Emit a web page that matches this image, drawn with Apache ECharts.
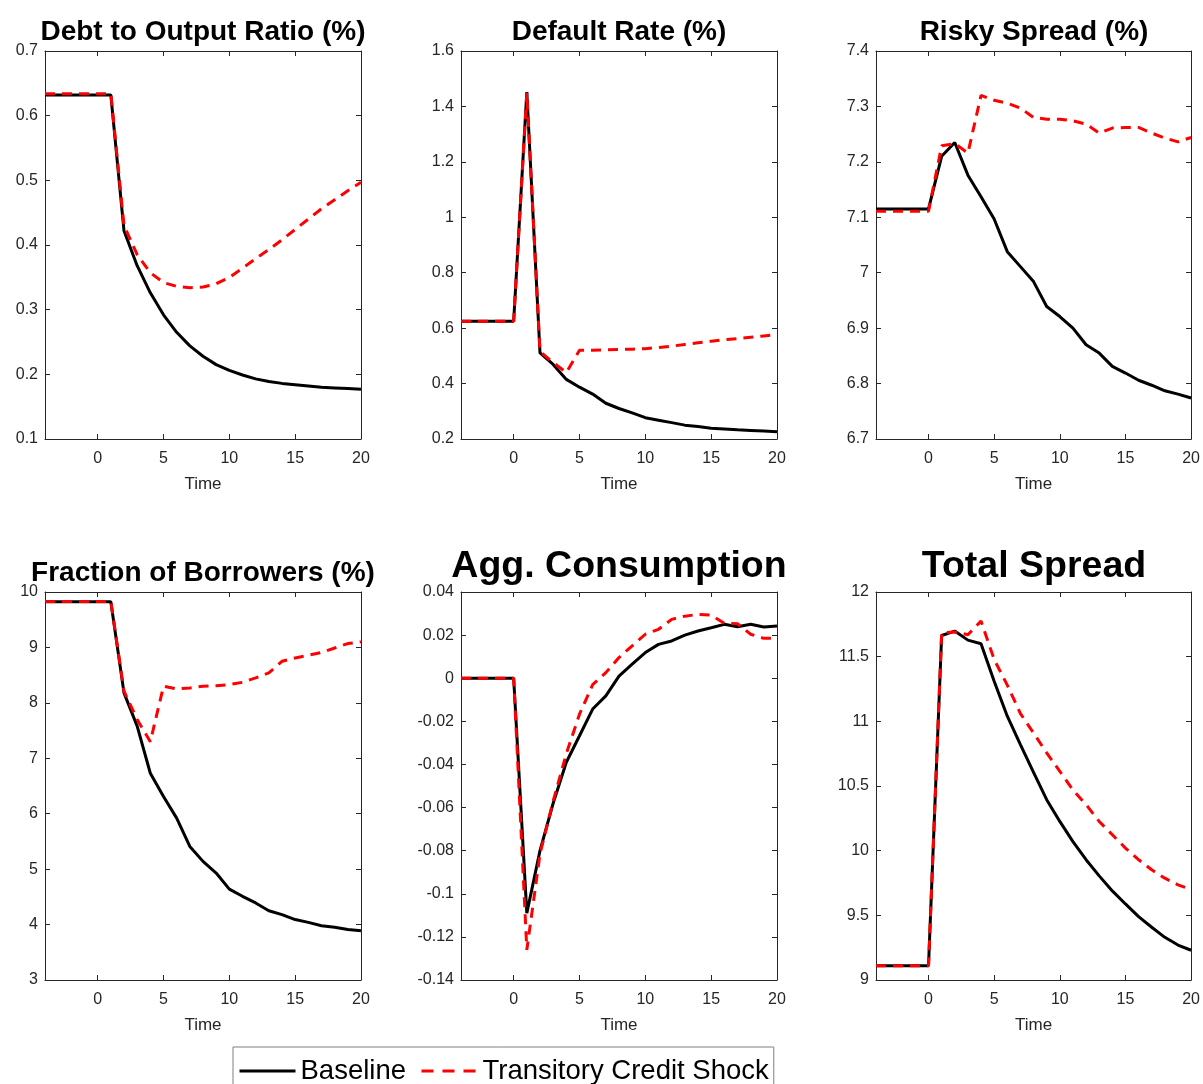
<!DOCTYPE html>
<html>
<head>
<meta charset="utf-8">
<script src="https://cdn.jsdelivr.net/npm/echarts@6/dist/echarts.min.js"></script>
<style>
  html, body { margin: 0; padding: 0; background: #fff; }
  #chart { width: 1203px; height: 1084px; }
</style>
</head>
<body>
<div id="chart"></div>
<script>
// periods after the shock (shock hits at t = 0)
var periods = [-4, -3, -2, -1, 0, 1, 2, 3, 4, 5, 6, 7, 8, 9, 10, 11, 12, 13, 14, 15, 16, 17, 18, 19, 20];
var timeTicks = [0, 5, 10, 15, 20];

var debtBase = [0.632, 0.632, 0.632, 0.632, 0.632, 0.632, 0.422, 0.368, 0.326, 0.292, 0.265, 0.244, 0.228, 0.215, 0.206, 0.199, 0.193, 0.189, 0.186, 0.184, 0.182, 0.180, 0.179, 0.178, 0.177];
var debtShock = [0.634, 0.634, 0.634, 0.634, 0.634, 0.634, 0.430, 0.385, 0.357, 0.342, 0.336, 0.334, 0.335, 0.340, 0.350, 0.364, 0.379, 0.393, 0.408, 0.424, 0.440, 0.456, 0.470, 0.484, 0.497];

var defaultBase = [0.625, 0.625, 0.625, 0.625, 0.625, 1.452, 0.511, 0.469, 0.415, 0.387, 0.362, 0.329, 0.310, 0.294, 0.277, 0.268, 0.259, 0.250, 0.245, 0.239, 0.236, 0.233, 0.231, 0.229, 0.226];
var defaultShock = [0.625, 0.625, 0.625, 0.625, 0.625, 1.450, 0.515, 0.476, 0.440, 0.520, 0.520, 0.522, 0.523, 0.524, 0.526, 0.530, 0.535, 0.541, 0.547, 0.553, 0.558, 0.562, 0.567, 0.572, 0.577];

var riskyBase = [7.115, 7.115, 7.115, 7.115, 7.115, 7.210, 7.235, 7.176, 7.137, 7.097, 7.038, 7.011, 6.984, 6.939, 6.921, 6.900, 6.870, 6.855, 6.831, 6.819, 6.806, 6.797, 6.787, 6.781, 6.774];
var riskyShock = [7.111, 7.111, 7.111, 7.111, 7.111, 7.229, 7.233, 7.216, 7.320, 7.311, 7.306, 7.297, 7.280, 7.277, 7.277, 7.274, 7.268, 7.252, 7.261, 7.262, 7.262, 7.252, 7.243, 7.236, 7.244];

var borrowersBase = [9.825, 9.825, 9.825, 9.825, 9.825, 9.825, 8.18, 7.58, 6.73, 6.31, 5.92, 5.41, 5.14, 4.93, 4.64, 4.51, 4.39, 4.25, 4.18, 4.09, 4.04, 3.98, 3.95, 3.91, 3.89];
var borrowersShock = [9.83, 9.83, 9.83, 9.83, 9.83, 9.83, 8.21, 7.70, 7.30, 8.30, 8.25, 8.27, 8.30, 8.31, 8.33, 8.37, 8.45, 8.54, 8.75, 8.81, 8.86, 8.91, 8.99, 9.07, 9.10];

var consBase = [0, 0, 0, 0, 0, -0.109, -0.080, -0.058, -0.039, -0.0267, -0.0143, -0.0082, 0.001, 0.0065, 0.0119, 0.0157, 0.0173, 0.0200, 0.0219, 0.0234, 0.0250, 0.0239, 0.0250, 0.0238, 0.0242];
var consShock = [0, 0, 0, 0, 0, -0.126, -0.0815, -0.057, -0.035, -0.0167, -0.003, 0.0026, 0.0096, 0.0150, 0.0204, 0.0227, 0.0273, 0.0288, 0.0296, 0.0293, 0.0255, 0.0253, 0.0204, 0.0185, 0.0185];

var totalBase = [9.11, 9.11, 9.11, 9.11, 9.11, 11.664, 11.698, 11.628, 11.600, 11.310, 11.040, 10.820, 10.606, 10.394, 10.226, 10.070, 9.930, 9.805, 9.689, 9.588, 9.490, 9.408, 9.330, 9.270, 9.230];
var totalShock = [9.11, 9.11, 9.11, 9.11, 9.11, 11.685, 11.690, 11.670, 11.775, 11.478, 11.280, 11.060, 10.910, 10.756, 10.614, 10.470, 10.356, 10.226, 10.123, 10.020, 9.930, 9.852, 9.787, 9.736, 9.700];

var panels = [
  { title: 'Debt to Output Ratio (%)', big: false, base: debtBase, shock: debtShock, min: 0.1, max: 0.7, interval: 0.1 },
  { title: 'Default Rate (%)', big: false, base: defaultBase, shock: defaultShock, min: 0.2, max: 1.6, interval: 0.2 },
  { title: 'Risky Spread (%)', big: false, base: riskyBase, shock: riskyShock, min: 6.7, max: 7.4, interval: 0.1 },
  { title: 'Fraction of Borrowers (%)', big: false, base: borrowersBase, shock: borrowersShock, min: 3, max: 10, interval: 1 },
  { title: 'Agg. Consumption', big: true, base: consBase, shock: consShock, min: -0.14, max: 0.04, interval: 0.02 },
  { title: 'Total Spread', big: true, base: totalBase, shock: totalShock, min: 9, max: 12, interval: 0.5 }
];

var FONT = '"Liberation Sans", Arial, sans-serif';
var AXIS_COLOR = '#262626';
var colLeft = [45, 461, 876];
var rowTop = [51, 592];
var plotW = 316, plotH = 388;

function pairs(vals) {
  return periods.map(function (p, i) { return [p, vals[i]]; });
}

var grids = [], xAxes = [], yAxes = [], series = [], titles = [];

panels.forEach(function (p, k) {
  var col = k % 3, row = Math.floor(k / 3);
  var left = colLeft[col], top = rowTop[row];
  grids.push({ left: left, top: top, width: plotW, height: plotH, containLabel: false });

  var axisLine = { show: true, onZero: false, lineStyle: { color: AXIS_COLOR, width: 1 } };
  var tick = { show: true, inside: true, length: 5, lineStyle: { color: AXIS_COLOR } };
  var xBase = {
    gridIndex: k, type: 'value', min: -4, max: 20,
    axisLine: axisLine, splitLine: { show: false }
  };
  // bottom x axis with labels
  xAxes.push(Object.assign({}, xBase, {
    position: 'bottom',
    name: 'Time', nameLocation: 'middle', nameGap: 37,
    nameTextStyle: { fontFamily: FONT, fontSize: 17, color: AXIS_COLOR },
    axisTick: Object.assign({ customValues: timeTicks }, tick),
    axisLabel: { show: true, customValues: timeTicks, margin: 12, fontFamily: FONT, fontSize: 16, color: AXIS_COLOR }
  }));
  // top x axis, ticks only (box)
  xAxes.push(Object.assign({}, xBase, {
    position: 'top',
    axisTick: Object.assign({ customValues: timeTicks }, tick),
    axisLabel: { show: false }
  }));

  var yBase = {
    gridIndex: k, type: 'value', min: p.min, max: p.max, interval: p.interval,
    axisLine: axisLine, splitLine: { show: false }
  };
  yAxes.push(Object.assign({}, yBase, {
    position: 'left',
    axisTick: tick,
    axisLabel: { show: true, margin: 7, fontFamily: FONT, fontSize: 16, color: AXIS_COLOR }
  }));
  yAxes.push(Object.assign({}, yBase, {
    position: 'right',
    axisTick: tick,
    axisLabel: { show: false }
  }));

  series.push({
    name: 'Baseline', type: 'line', xAxisIndex: 2 * k, yAxisIndex: 2 * k,
    data: pairs(p.base), symbol: 'none', animation: false,
    lineStyle: { color: '#000', width: 3 }, itemStyle: { color: '#000' }
  });
  series.push({
    name: 'Transitory Credit Shock', type: 'line', xAxisIndex: 2 * k, yAxisIndex: 2 * k,
    data: pairs(p.shock), symbol: 'none', animation: false,
    lineStyle: { color: '#ff0000', width: 3, type: [10, 7] }, itemStyle: { color: '#ff0000' }
  });

  titles.push({
    text: p.title,
    left: left + plotW / 2 - 5,
    textAlign: 'center',
    top: row === 0 ? 13 : (p.big ? 543 : 554),
    textStyle: { fontFamily: FONT, fontWeight: 'bold', fontSize: p.big ? 37.5 : 28, color: '#000' }
  });
});

var chart = echarts.init(document.getElementById('chart'));
chart.setOption({
  backgroundColor: '#fff',
  animation: false,
  title: titles,
  grid: grids,
  xAxis: xAxes,
  yAxis: yAxes,
  series: series,
  legend: {
    data: [
      { name: 'Baseline', lineStyle: { width: 3, type: 'solid' } },
      { name: 'Transitory Credit Shock', lineStyle: { width: 3, type: [12, 9] } }
    ],
    left: 233, top: 1047,
    orient: 'horizontal',
    padding: [10, 5, 12, 5],
    itemWidth: 56, itemHeight: 20, itemGap: 14,
    itemStyle: { opacity: 0 },
    borderColor: '#7f7f7f', borderWidth: 1,
    textStyle: { fontFamily: FONT, fontSize: 27.5, color: '#000' }
  }
});
</script>
</body>
</html>
